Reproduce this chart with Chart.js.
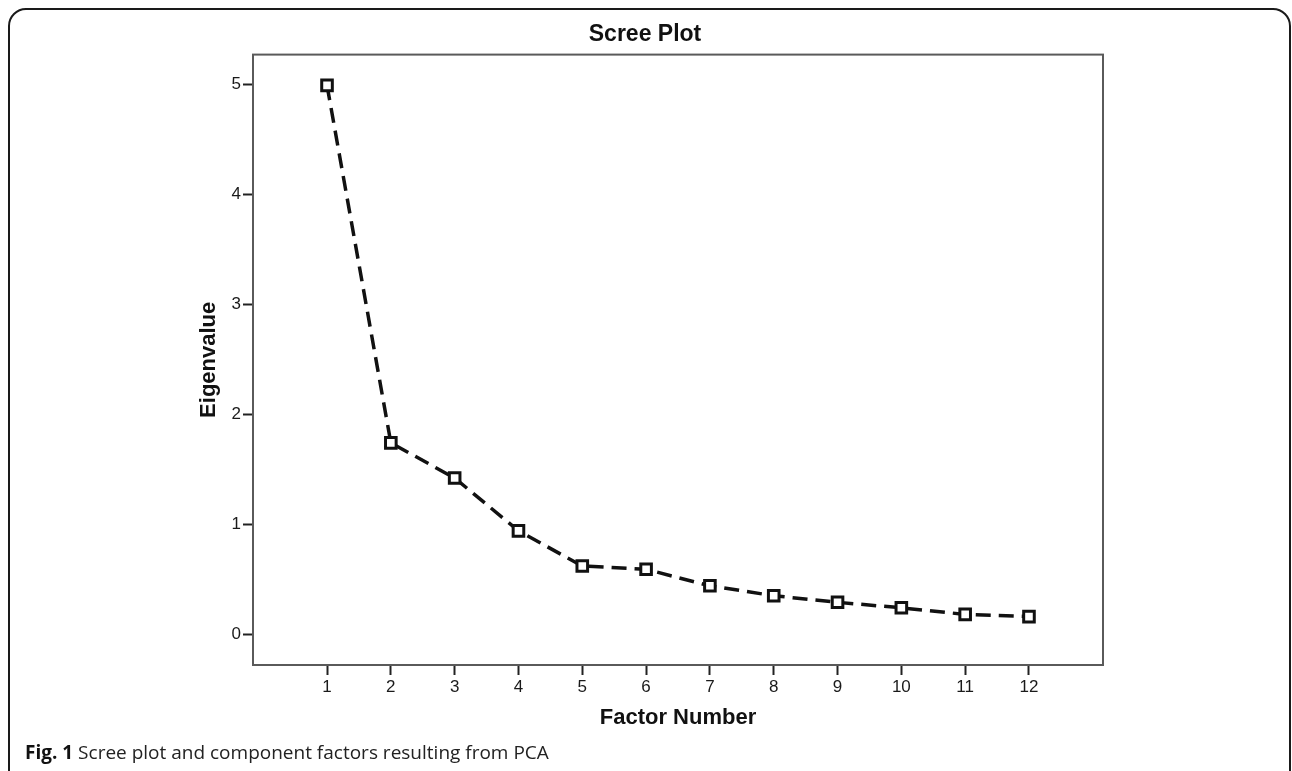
<!DOCTYPE html>
<html>
<head>
<meta charset="utf-8">
<script src="https://cdn.jsdelivr.net/npm/chart.js@4"></script>
<style>
html, body { margin: 0; padding: 0; background: #fff; overflow: hidden; }
#wrap { position: relative; width: 1292px; height: 771px; }
#frame { position: absolute; left: 8px; top: 8px; width: 1279px; height: 900px; border: 2px solid #1a1a1a; border-radius: 18px; }
#caption { position: absolute; left: 25px; top: 740px; font: 19px "Open Sans", sans-serif; line-height: 24px; color: #222; white-space: nowrap; }
#caption b { color: #111; }
canvas { position: absolute; left: 0; top: 0; }
</style>
</head>
<body>
<div id="wrap">
  <div id="frame"></div>
  <canvas id="screeChart" width="1292" height="771"></canvas>
  <div id="caption"><b>Fig. 1</b> Scree plot and component factors resulting from PCA</div>
</div>
<script>
// values
const factorNumbers = [1, 2, 3, 4, 5, 6, 7, 8, 9, 10, 11, 12];
const eigenvalues = [4.99, 1.74, 1.42, 0.94, 0.62, 0.59, 0.44, 0.35, 0.29, 0.24, 0.18, 0.16];
const yTicks = [0, 1, 2, 3, 4, 5];

const arial = 'Arial, "Liberation Sans", sans-serif';

// box around the plot area
const plotBox = {
    id: 'plotBox',
    afterDraw(chart) {
        const {ctx, chartArea: a} = chart;
        ctx.save();
        ctx.strokeStyle = '#5a5a5a';
        ctx.lineWidth = 2;
        ctx.strokeRect(a.left, a.top, a.right - a.left, a.bottom - a.top);
        ctx.restore();
    }
};

const ctx = document.getElementById('screeChart').getContext('2d');
new Chart(ctx, {
    type: 'line',
    data: {
        datasets: [{
            data: factorNumbers.map((f, i) => ({x: f, y: eigenvalues[i]})),
            borderColor: '#111',
            borderWidth: 3.5,
            borderDash: [15, 8],
            pointStyle: 'rect',
            pointRadius: 7.5,
            pointBorderWidth: 3,
            pointBorderColor: '#111',
            pointBackgroundColor: '#fff',
            tension: 0
        }]
    },
    options: {
        responsive: false,
        animation: false,
        layout: { padding: { left: 187, right: 189, top: 10, bottom: 30 } },
        scales: {
            x: {
                type: 'linear',
                min: -0.16,
                max: 13.16,
                afterBuildTicks: s => { s.ticks = factorNumbers.map(v => ({value: v})); },
                afterFit: s => { s.height = 76; },
                border: { display: false },
                grid: { drawOnChartArea: false, tickLength: 10, tickWidth: 2, tickColor: '#222' },
                ticks: { color: '#1a1a1a', font: { family: arial, size: 17 }, padding: 2, maxRotation: 0 },
                title: { display: true, text: 'Factor Number', color: '#111',
                         font: { family: arial, size: 22, weight: 'bold' }, padding: { top: 0, bottom: 10 } }
            },
            y: {
                min: -0.28,
                max: 5.27,
                afterBuildTicks: s => { s.ticks = yTicks.map(v => ({value: v})); },
                afterFit: s => { s.width = 66; },
                border: { display: false },
                grid: { drawOnChartArea: false, tickLength: 10, tickWidth: 2, tickColor: '#222' },
                ticks: { color: '#1a1a1a', font: { family: arial, size: 17 }, padding: 2 },
                title: { display: true, text: 'Eigenvalue', color: '#111',
                         font: { family: arial, size: 22, weight: 'bold' }, padding: { top: 9, bottom: 0 } }
            }
        },
        plugins: {
            legend: { display: false },
            tooltip: { enabled: false },
            title: {
                display: true,
                text: 'Scree Plot',
                color: '#111',
                font: { family: arial, size: 23, weight: 'bold' },
                padding: { top: 11, bottom: 6 }
            }
        }
    },
    plugins: [plotBox]
});
</script>
</body>
</html>
